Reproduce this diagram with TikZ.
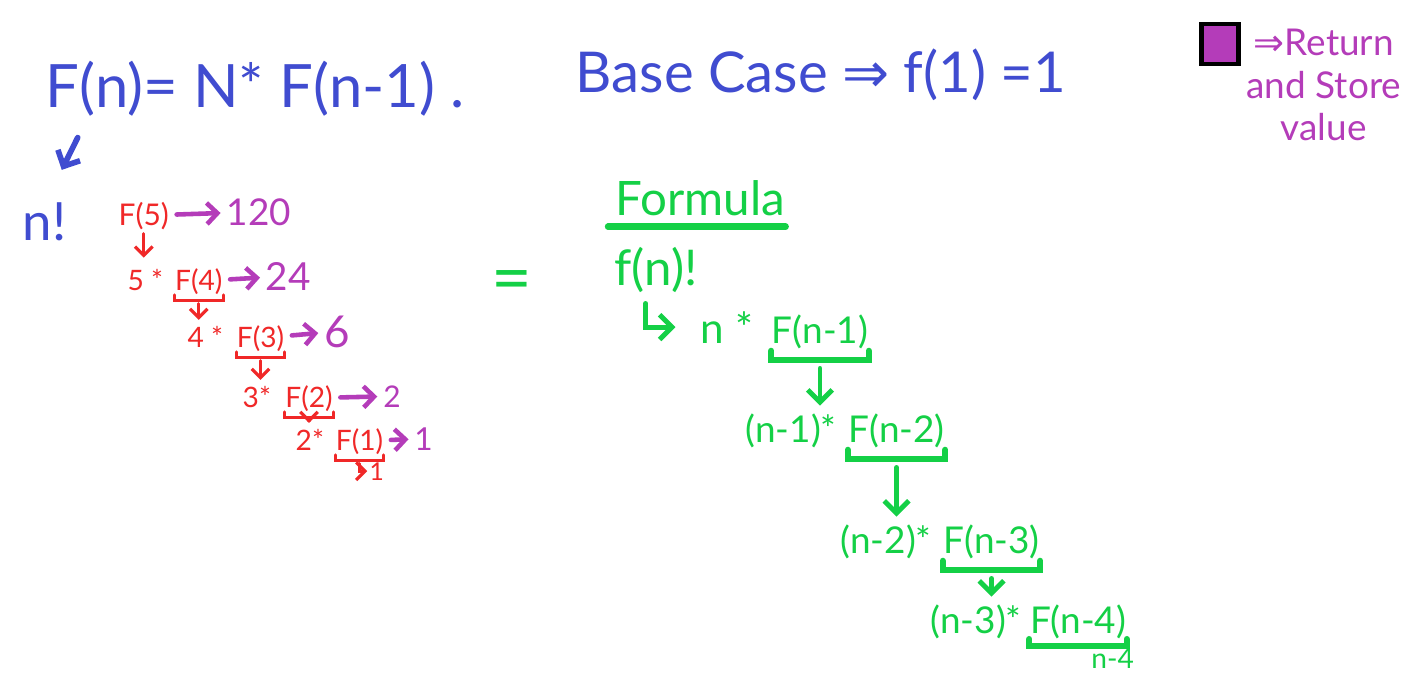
\documentclass[tikz,border=0pt]{standalone}
\usepackage{fontspec}
\setmainfont{Lato}
\newfontfamily\symfont{DejaVu Sans}
\usetikzlibrary{arrows.meta,positioning}
\definecolor{penblue}{RGB}{64,76,208}
\definecolor{penred}{RGB}{240,40,40}
\definecolor{penpurple}{RGB}{180,60,185}
\definecolor{pengreen}{RGB}{20,208,70}

\begin{document}
\begin{tikzpicture}[
    x=0.01cm,y=-0.01cm,
    title/.style={anchor=base west,inner sep=0pt,text=penblue,font=\fontsize{17}{20}\selectfont},
    redterm/.style={anchor=base west,inner sep=0pt,text=penred,font=\fontsize{8}{9}\selectfont},
    result/.style={inner sep=0pt,text=penpurple,font=\fontsize{10.5}{12}\selectfont},
    greenterm/.style={anchor=base west,inner sep=0pt,text=pengreen,font=\fontsize{10.5}{12}\selectfont},
    note/.style={inner sep=0pt,text=penpurple,align=center,font=\fontsize{10.5}{12}\selectfont},
    bluearrow/.style={-{Straight Barb[length=3.5pt]},penblue,line width=1.6pt,line cap=round},
    redarrow/.style={-{Straight Barb[length=2.5pt]},penred,line width=0.9pt,line cap=round,
      shorten <=1pt,shorten >=3pt},
    purplearrow/.style={-{Straight Barb[length=3pt]},penpurple,line width=1.3pt,line cap=round,
      shorten <=2pt,shorten >=1.5pt},
    greenarrow/.style={-{Straight Barb[length=3.5pt]},pengreen,line width=1.4pt,line cap=round},
    redbrace/.style={penred,line width=0.9pt,line cap=round},
    greenbrace/.style={pengreen,line width=1.8pt,line cap=round}
  ]
    \fill[white] (0,0) rectangle (1416,672);
    \useasboundingbox (0,0) rectangle (1416,672);

    % definition and base case
    \node[title] (defn) at (45,107) {F(n)= N* F(n-1) .};
    \node[title,font=\fontsize{16}{18}\selectfont] (basecase) at (575,92)
      {Base Case {\symfont ⇒} f(1) =1};
    \node[title,font=\fontsize{15}{17}\selectfont] (nfact) at (22,240) {n!};
    \draw[bluearrow] ([xshift=9.3pt,yshift=-6pt]defn.south west) -- ([xshift=-1.5pt,yshift=9pt]nfact.north east);

    % legend
    \node[draw=black,line width=1.2pt,fill=penpurple,minimum width=10.5pt,minimum height=11.5pt,
      inner sep=0pt] (legendbox) at (1220,44) {};
    \node[note,anchor=north west] (legendtext) at ([xshift=1.5pt,yshift=-2pt]legendbox.north east)
      {{\symfont ⇒}Return\\and Store\\value};

    % worked example, n = 5
    \node[redterm,font=\fontsize{8.5}{9}\selectfont] (f5) at (118,225) {F(5)};
    \node[redterm] (m4) at (127,290) {5 *};
    \node[redterm,base right=3pt of m4] (f4) {F(4)};
    \node[redterm] (m3) at (187,347) {4 *};
    \node[redterm,base right=3.5pt of m3] (f3) {F(3)};
    \node[redterm] (m2) at (242,407) {3*};
    \node[redterm,base right=3.7pt of m2] (f2) {F(2)};
    \node[redterm] (m1) at (295,450) {2*};
    \node[redterm,base right=3pt of m1] (f1) {F(1)};
    \node[redterm,font=\fontsize{7}{8}\selectfont] (one) at (369,480) {1};

    \node[result,base right=16pt of f5] (r120) {120};
    \node[result,font=\fontsize{11}{12}\selectfont,base right=12pt of f4] (r24) {24};
    \node[result,font=\fontsize{12.5}{14}\selectfont,base right=11pt of f3] (r6) {6};
    \node[result,font=\fontsize{8.5}{10}\selectfont,base right=14pt of f2] (r2) {2};
    \node[result,font=\fontsize{9}{10}\selectfont,base right=8.5pt of f1] (r1) {1};

    \draw[redarrow] (f5.south) -- (f5.south |- m4.north);
    \foreach \a/\b in {f4/m3,f3/m2,f2/m1}{
      \draw[redbrace] (\a.south west) -- ++(0,-1.5pt) -| (\a.south east);
      \draw[redarrow] ([yshift=-1.5pt]\a.south) -- ([yshift=-1.5pt]\a.south |- \b.north);
    }
    \draw[redbrace] (f1.south west) -- ++(0,-1.5pt) -| (f1.south east);
    \draw[redarrow,shorten >=0.5pt] ([yshift=-1.5pt]f1.south) |- (one.west);

    \draw[purplearrow] (f5) -- (r120);
    \draw[purplearrow] (f4) -- (r24);
    \draw[purplearrow] (f3) -- (r6);
    \draw[purplearrow] (f2) -- (r2);
    \draw[purplearrow] (f1) -- (r1);

    % general formula
    \node[greenterm,anchor=center,font=\fontsize{20}{22}\selectfont] (equals) at (512,287) {=};
    \node[greenterm,font=\fontsize{13.5}{15}\selectfont] (formula) at (615,215) {Formula};
    \draw[greenbrace] ([xshift=-2pt,yshift=-3pt]formula.south west) -- ([yshift=-3pt]formula.south east);
    \node[greenterm,font=\fontsize{14}{16}\selectfont] (fn) at (614,285) {f(n)!};
    \node[greenterm,font=\fontsize{12}{14}\selectfont] (nn) at (700,343) {n *};
    \node[greenterm,base right=5pt of nn] (g1) {F(n-1)};
    \node[greenterm] (h2) at (745,442) {(n-1)*};
    \node[greenterm,base right=3pt of h2] (g2) {F(n-2)};
    \node[greenterm] (h3) at (840,553) {(n-2)*};
    \node[greenterm,base right=3pt of h3] (g3) {F(n-3)};
    \node[greenterm] (h4) at (930,633) {(n-3)*};
    \node[greenterm,base right=2pt of h4] (g4) {F(n-4)};

    \draw[greenarrow] ([xshift=9pt,yshift=-3pt]fn.south west) |- ([xshift=-7pt]nn.west);
    \foreach \a/\b in {g1/h2,g2/h3,g3/h4}{
      \draw[greenbrace] ([yshift=-0.5pt]\a.south west) -- ++(0,-2.5pt) -| ([yshift=-0.5pt]\a.south east);
      \draw[greenarrow,shorten <=2.5pt,shorten >=5pt] ([yshift=-3pt]\a.south) -- ([yshift=-3pt]\a.south |- \b.north);
    }
    \draw[greenbrace] (g4.south west) -- ++(0,-2pt) -| (g4.south east);
    \node[greenterm,anchor=base,font=\fontsize{8}{9}\selectfont] (nm4) at ([xshift=-4pt,yshift=-10pt]g4.base east) {n-4};
  \end{tikzpicture}
\end{document}
